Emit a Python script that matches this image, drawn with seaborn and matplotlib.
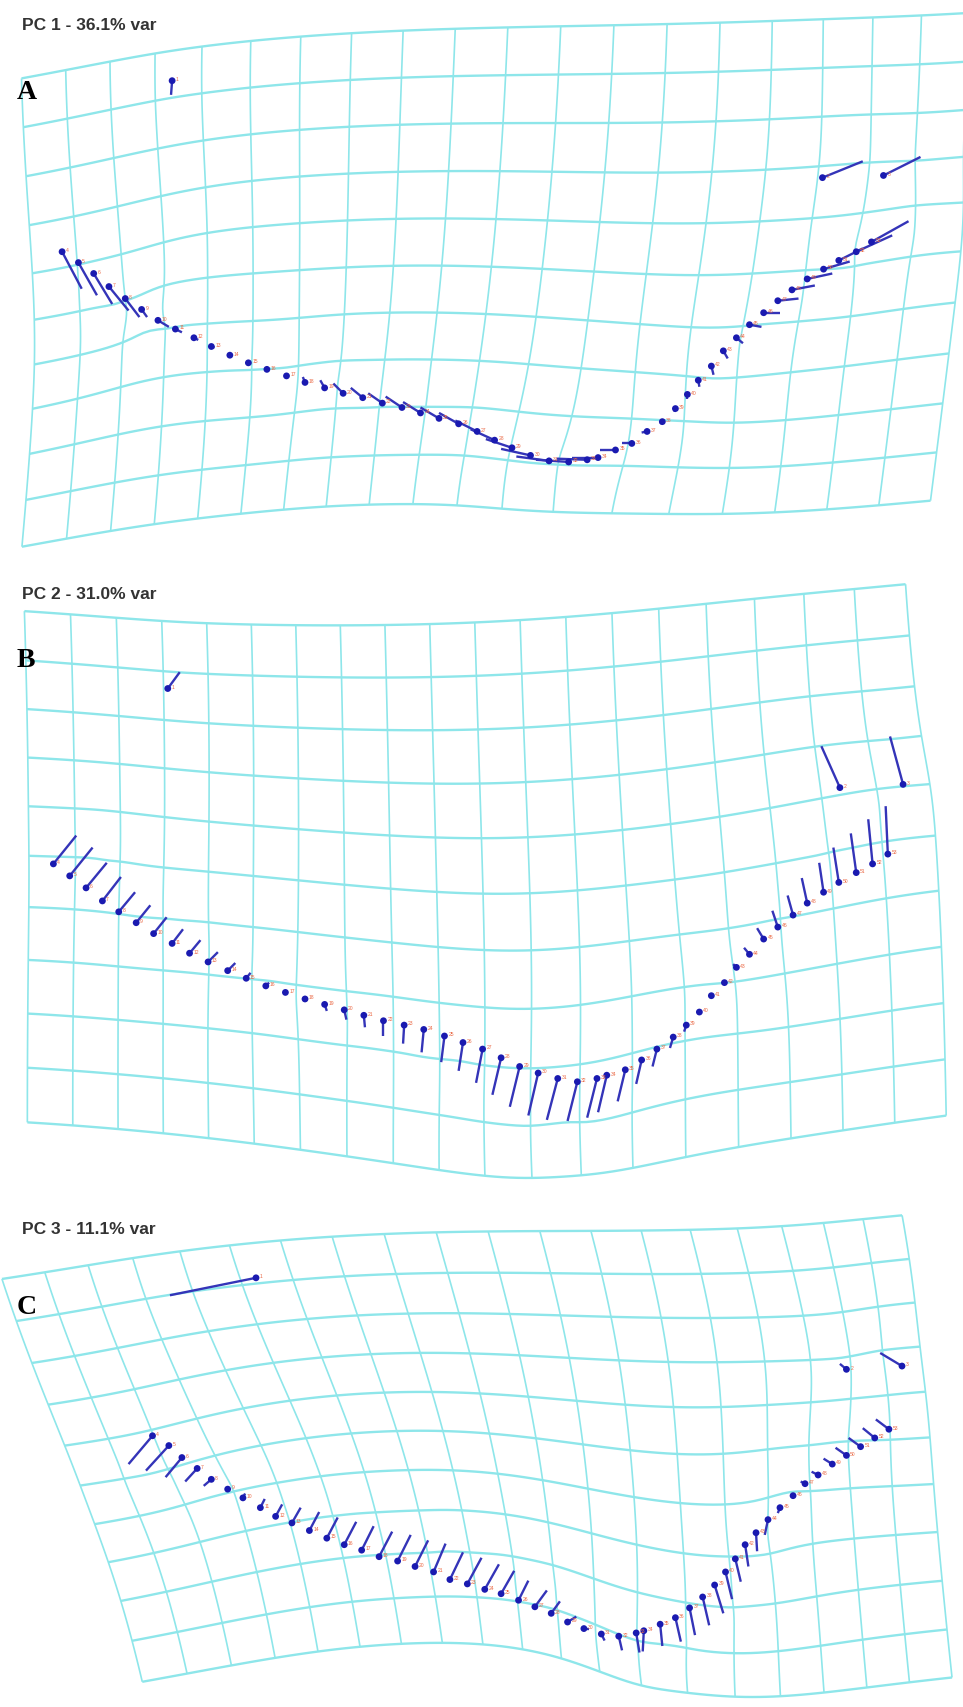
import numpy as np
import pandas as pd
import matplotlib
matplotlib.use("Agg")
import matplotlib.pyplot as plt
from matplotlib.collections import LineCollection
import seaborn as sns

# landmark positions (reference pixel space) and lollipop vectors, landmarks 1..53
pc1_x = [158, 755, 811, 57, 72, 86, 100, 115, 130, 145, 161, 178, 194, 211, 228, 245, 263, 280, 298, 315,
         333, 351, 369, 386, 403, 421, 438, 454, 470, 487, 504, 522, 539, 549, 565, 580, 594, 608, 620, 631,
         641, 653, 664, 676, 688, 701, 714, 727, 741, 756, 770, 786, 800]
pc1_y = [75, 164, 162, 232, 242, 252, 264, 275, 285, 295, 303, 311, 319, 327, 334, 340, 346, 352, 357, 362,
         366, 371, 375, 380, 385, 390, 397, 405, 412, 419, 424, 425, 423, 421, 414, 408, 397, 388, 376, 363,
         350, 337, 323, 311, 299, 288, 277, 267, 257, 248, 240, 232, 223]
pc1_dx = [-1, 37, 34, 18, 17, 17, 18, 13, 5, 10, 6, 4, 3, 2, 0, 0, -1, -2, -4, -9,
          -11, -13, -15, -16, -17, -18, -20, -22, -24, -27, -30, -30, -28, -24, -14, -9, -5, -2, -1, 0,
          1, 2, 4, 6, 11, 15, 19, 21, 23, 24, 22, 33, 34]
pc1_dy = [13, -15, -17, 34, 30, 28, 22, 17, 7, 6, 3, 2, 1, 0, 0, -1, -2, -5, -7, -9,
          -9, -9, -10, -10, -10, -10, -10, -10, -8, -6, -4, -2, -1, 0, 0, 0, 1, 2, 3, 4,
          6, 8, 7, 5, 2, 0, -2, -4, -5, -7, -11, -15, -19]

pc2_x = [154, 771, 829, 49, 64, 79, 94, 109, 125, 141, 158, 174, 191, 209, 226, 244, 262, 280, 298, 316,
         334, 352, 371, 389, 408, 425, 443, 460, 477, 494, 512, 530, 548, 557, 574, 589, 603, 618, 630, 642,
         653, 665, 676, 688, 701, 714, 728, 741, 756, 770, 786, 801, 815]
pc2_y = [633, 724, 721, 794, 805, 816, 828, 838, 848, 858, 867, 876, 884, 892, 899, 906, 912, 918, 923, 928,
         933, 938, 942, 946, 952, 958, 964, 972, 980, 986, 991, 994, 991, 988, 983, 974, 964, 953, 942, 930,
         915, 903, 889, 877, 863, 852, 841, 830, 820, 811, 802, 794, 785]
pc2_dx = [11, -17, -12, 21, 21, 19, 17, 15, 13, 12, 10, 10, 9, 7, 4, 3, 0, 0, 2, 2,
          1, 0, -1, -2, -3, -4, -6, -8, -9, -9, -10, -9, -9, -8, -7, -5, -4, -3, -2, -1,
          0, -1, -3, -5, -6, -5, -5, -5, -4, -5, -5, -4, -2]
pc2_dy = [-15, -38, -44, -26, -26, -23, -22, -18, -16, -15, -13, -12, -9, -7, -5, -3, 0, 3, 6, 9,
          11, 14, 17, 21, 24, 26, 31, 34, 37, 39, 38, 36, 36, 34, 29, 22, 16, 10, 6, 2,
          0, -1, -3, -6, -10, -15, -18, -23, -27, -32, -36, -41, -44]

pc3_x = [235, 777, 828, 140, 155, 167, 181, 194, 209, 223, 239, 253, 268, 284, 300, 316, 332, 348, 365, 381,
         398, 413, 429, 445, 460, 476, 491, 506, 521, 536, 552, 568, 584, 591, 606, 620, 633, 645, 656, 666,
         675, 684, 694, 705, 716, 728, 739, 751, 764, 777, 790, 803, 816]
pc3_y = [1174, 1258, 1255, 1319, 1328, 1339, 1349, 1359, 1368, 1376, 1385, 1393, 1399, 1406, 1413, 1419, 1424, 1430, 1434, 1439,
         1444, 1451, 1455, 1460, 1464, 1470, 1476, 1482, 1490, 1496, 1501, 1503, 1500, 1498, 1492, 1486, 1477, 1467, 1456, 1444,
         1432, 1419, 1408, 1396, 1385, 1374, 1363, 1355, 1345, 1337, 1329, 1321, 1313]
pc3_dx = [-79, -6, -20, -22, -21, -15, -11, -7, 0, 2, 4, 6, 8, 9, 10, 11, 11, 12, 12, 12,
          11, 12, 13, 13, 12, 9, 11, 8, 8, 5, 3, 3, 3, -1, 2, 5, 5, 6, 8, 6,
          5, 3, 1, -3, -2, -2, -4, -6, -8, -10, -11, -11, -12]
pc3_dy = [16, -5, -12, 26, 23, 18, 12, 6, 0, -4, -8, -11, -14, -17, -19, -21, -22, -23, -24, -24,
          -26, -25, -24, -23, -21, -18, -15, -11, -5, 0, 6, 13, 18, 19, 20, 22, 25, 26, 26, 25,
          21, 20, 17, 14, 5, -1, -2, -3, -5, -7, -8, -9, -9]

titles = ["PC 1 - 36.1% var", "PC 2 - 31.0% var", "PC 3 - 11.1% var"]
letters = ["A", "B", "C"]


def tps_fit(src, disp, lam=0.02):
    s = src / 100.0
    n = len(s)
    r2 = ((s[:, None, :] - s[None, :, :]) ** 2).sum(-1)
    K = np.where(r2 > 0, r2 * np.log(r2 + 1e-12), 0.0) + lam * np.eye(n)
    P = np.hstack([np.ones((n, 1)), s])
    L = np.zeros((n + 3, n + 3))
    L[:n, :n] = K
    L[:n, n:] = P
    L[n:, :n] = P.T
    rhs = np.vstack([disp, np.zeros((3, 2))])
    W = np.linalg.solve(L, rhs)

    def warp(pts):
        p = pts / 100.0
        r2 = ((p[:, None, :] - s[None, :, :]) ** 2).sum(-1)
        U = np.where(r2 > 0, r2 * np.log(r2 + 1e-12), 0.0)
        Pp = np.hstack([np.ones((len(p), 1)), p])
        return pts + U @ W[:n] + Pp @ W[n:]
    return warp


sns.set_theme(style="white")
plt.rcParams["font.family"] = ["Liberation Sans", "DejaVu Sans"]

fig = plt.figure(figsize=(9.63, 17.08), dpi=100)
ax = fig.add_axes([0, 0, 1, 1])

# (landmarks, undeformed grid box, title y, letter y)
panels = [
    (pc1_x, pc1_y, pc1_dx, pc1_dy, (10, 850, 34, 472), 23, 85),
    (pc2_x, pc2_y, pc2_dx, pc2_dy, (3, 855, 588, 1040), 546, 606),
    (pc3_x, pc3_y, pc3_dx, pc3_dy, (90, 872, 1134, 1530), 1129, 1200),
]

grid_col = "#8ee6ea"
for k, (xs, ys, dxs, dys, box, ty, ly) in enumerate(panels):
    src = np.column_stack([xs, ys]).astype(float)
    disp = np.column_stack([dxs, dys]).astype(float)
    warp = tps_fit(src, disp)

    x0, x1, y0, y1 = box
    gx = np.linspace(x0, x1, 20)
    gy = np.linspace(y0, y1, 11)
    t_x = np.linspace(x0, x1, 120)
    t_y = np.linspace(y0, y1, 80)
    segs_h = [warp(np.column_stack([t_x, np.full_like(t_x, yy)])) for yy in gy]
    segs_v = [warp(np.column_stack([np.full_like(t_y, xx), t_y])) for xx in gx]
    ax.add_collection(LineCollection(segs_h, colors=grid_col, linewidths=1.7, zorder=1))
    ax.add_collection(LineCollection(segs_v, colors=grid_col, linewidths=1.2, zorder=1))

    # lollipop sticks
    sticks = [[(x, y), (x + dx, y + dy)] for x, y, dx, dy in zip(xs, ys, dxs, dys)]
    ax.add_collection(LineCollection(sticks, colors="#3434b8", linewidths=1.7, zorder=3))

    df = pd.DataFrame({"x": xs, "y": ys})
    sns.scatterplot(data=df, x="x", y="y", color="#1a1ab0", s=24, edgecolor="none",
                    ax=ax, zorder=4, legend=False)
    for i, (x, y) in enumerate(zip(xs, ys)):
        ax.text(x + 3.5, y - 2, str(i + 1), fontsize=3.6, color="#ea6a46", zorder=5,
                ha="left", va="center")

    ax.text(20, ty, titles[k], fontsize=12.5, fontweight="bold", color="#333333",
            ha="left", va="center", zorder=6)
    ax.text(15, ly, letters[k], fontsize=20, fontweight="bold", color="black",
            family=["Liberation Serif", "DejaVu Serif"], ha="left", va="center", zorder=6)

ax.set_xlim(0, 884)
ax.set_ylim(1568, 0)
ax.axis("off")
fig.savefig("out.png", dpi=100, facecolor="white")
